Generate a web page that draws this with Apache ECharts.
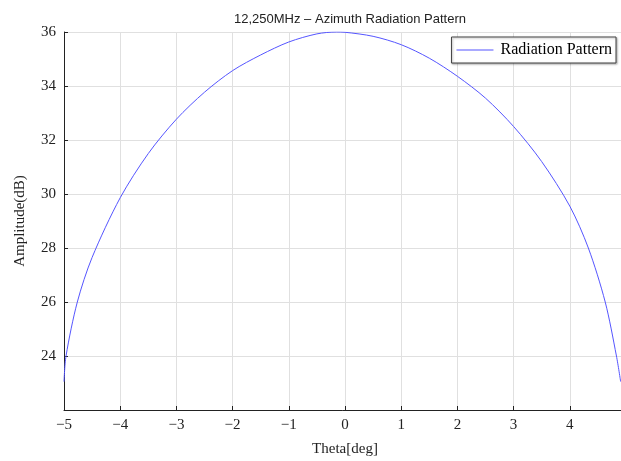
<!DOCTYPE html>
<html><head><meta charset="utf-8">
<script src="https://cdn.jsdelivr.net/npm/echarts@6/dist/echarts.min.js"></script>
<style>html,body{margin:0;padding:0;background:#fff}#c{width:621px;height:461px}</style>
</head><body><div id="c"></div>
<script>
const titleText = "12,250MHz \u2013 Azimuth Radiation Pattern";
const seriesName = "Radiation Pattern";
const xName = "Theta[deg]";
const yName = "Amplitude(dB)";
const theta = [-5.0, -4.964, -4.763, -4.5, -4.0, -3.5, -3.0, -2.5, -2.0, -1.5, -1.0, -0.5, -0.15, 0.0, 0.5, 1.0, 1.5, 2.0, 2.5, 3.0, 3.5, 4.0, 4.33, 4.63, 4.83, 4.905];
const amp   = [23.05, 24.0, 26.0, 27.65, 29.86, 31.5, 32.77, 33.77, 34.57, 35.15, 35.63, 35.93, 36.0, 35.99, 35.84, 35.53, 35.03, 34.36, 33.55, 32.5, 31.2, 29.55, 28.0, 26.0, 24.0, 23.05];

const serif = "Liberation Serif";
const chart = echarts.init(document.getElementById('c'), null, {renderer:'canvas'});
chart.setOption({
  animation:false,
  title:{text:titleText,left:345,top:8,textAlign:'center',
    textStyle:{fontFamily:'Liberation Sans',fontSize:13,fontWeight:'normal',color:'#222'}},
  legend:{data:[{name:seriesName,icon:'rect'}],right:5,top:37,itemWidth:37,itemHeight:1,
    borderColor:'#444',borderWidth:1,padding:[5,4,5,5],itemGap:0,
    textStyle:{fontFamily:serif,fontSize:16,color:'#000',padding:[0,0,0,2]},
    shadowColor:'rgba(0,0,0,0.3)',shadowBlur:2,shadowOffsetX:1,shadowOffsetY:1,backgroundColor:'#fff'},
  grid:{left:64,top:32,bottom:51,right:-5,containLabel:false,outerBoundsMode:'none'},
  xAxis:{type:'value',min:-5,max:5,interval:1,name:xName,nameLocation:'middle',nameGap:32,
    nameTextStyle:{fontFamily:serif,fontSize:15,color:'#222'},
    axisLine:{onZero:false,lineStyle:{color:'#222',width:1}},
    axisTick:{inside:true,length:4,lineStyle:{color:'#222'}},
    axisLabel:{fontFamily:serif,fontSize:15,color:'#222',margin:8,
      formatter:v=>v<0?'\u2212'+Math.abs(v):String(v)},
    splitLine:{show:true,lineStyle:{color:'#e0e0e0',width:1}}},
  yAxis:{type:'value',min:22,max:36,interval:2,name:yName,nameLocation:'middle',nameGap:36,
    nameTextStyle:{fontFamily:serif,fontSize:15,color:'#222'},
    axisLine:{show:true,onZero:false,lineStyle:{color:'#222',width:1}},
    axisTick:{show:true,inside:true,length:4,lineStyle:{color:'#222'}},
    axisLabel:{fontFamily:serif,fontSize:15,color:'#222',margin:8,
      formatter:v=>v===22?'':String(v)},
    splitLine:{show:true,lineStyle:{color:'#e0e0e0',width:1}}},
  series:[{name:seriesName,type:'line',data:theta.map((t,i)=>[t,amp[i]]),
    smooth:0.3,showSymbol:false,lineStyle:{color:'#5555ff',width:1},itemStyle:{color:'#5555ff'}}]
});
</script></body></html>
